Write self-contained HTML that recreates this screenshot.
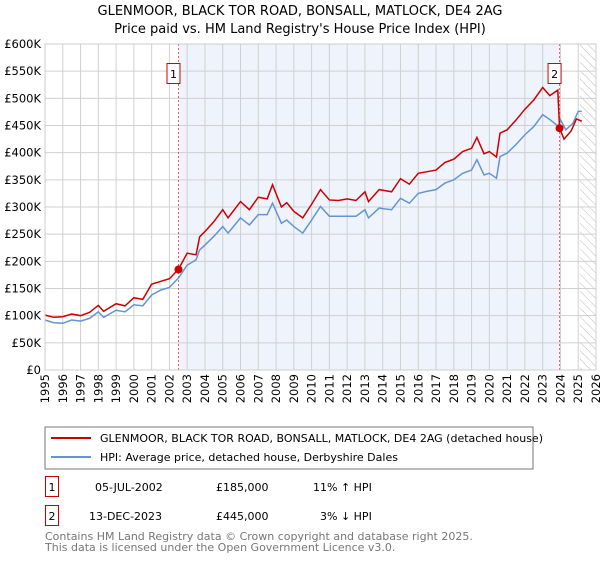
<!DOCTYPE html>
<html><head><meta charset="utf-8"><style>
body{margin:0;background:#fff;font-family:"DejaVu Sans","Liberation Sans",sans-serif;}
svg text{font-family:"DejaVu Sans","Liberation Sans",sans-serif;}
</style></head><body>
<svg id="c" width="600" height="560" xmlns="http://www.w3.org/2000/svg">
<text x="300" y="15" text-anchor="middle" font-size="13">GLENMOOR, BLACK TOR ROAD, BONSALL, MATLOCK, DE4 2AG</text>
<text x="300" y="33" text-anchor="middle" font-size="13">Price paid vs. HM Land Registry's House Price Index (HPI)</text>
<g id="plot"></g>
<rect x="45" y="427" width="488" height="42" fill="#fff" stroke="#777"/>
<line x1="51" y1="438" x2="91" y2="438" stroke="#cc0000" stroke-width="2"/>
<text x="100" y="442" font-size="11">GLENMOOR, BLACK TOR ROAD, BONSALL, MATLOCK, DE4 2AG (detached house)</text>
<line x1="51" y1="457" x2="91" y2="457" stroke="#6495d2" stroke-width="2"/>
<text x="100" y="461" font-size="11">HPI: Average price, detached house, Derbyshire Dales</text>
<rect x="45.5" y="476.5" width="13" height="20" fill="none" stroke="#cc0000"/>
<text x="52" y="491" font-size="11" text-anchor="middle">1</text>
<text x="95" y="491" font-size="11">05-JUL-2002</text>
<text x="216" y="491" font-size="11">£185,000</text>
<text x="313" y="491" font-size="11">11% ↑ HPI</text>
<rect x="45.5" y="505.5" width="13" height="20" fill="none" stroke="#cc0000"/>
<text x="52" y="520" font-size="11" text-anchor="middle">2</text>
<text x="89" y="520" font-size="11">13-DEC-2023</text>
<text x="216" y="520" font-size="11">£445,000</text>
<text x="320" y="520" font-size="11">3% ↓ HPI</text>
<text x="45" y="540" font-size="11" fill="#777">Contains HM Land Registry data © Crown copyright and database right 2025.</text>
<text x="45" y="551" font-size="11" fill="#777">This data is licensed under the Open Government Licence v3.0.</text>
</svg>
<script>
const yearTicks=[1995,1996,1997,1998,1999,2000,2001,2002,2003,2004,2005,2006,2007,2008,2009,2010,2011,2012,2013,2014,2015,2016,2017,2018,2019,2020,2021,2022,2023,2024,2025,2026];
const priceTicks=[0,50,100,150,200,250,300,350,400,450,500,550,600];
const priceLabels=["£0","£50K","£100K","£150K","£200K","£250K","£300K","£350K","£400K","£450K","£500K","£550K","£600K"];
const hpiT=[1995,1995.5,1996,1996.5,1997,1997.5,1998,1998.3,1999,1999.5,2000,2000.5,2001,2001.5,2002,2002.5,2003,2003.5,2003.7,2004,2004.5,2005,2005.3,2006,2006.5,2007,2007.5,2007.8,2008.3,2008.6,2009,2009.5,2010,2010.5,2011,2011.5,2012,2012.5,2013,2013.2,2013.8,2014.5,2015,2015.5,2016,2016.5,2017,2017.5,2018,2018.5,2019,2019.3,2019.7,2020,2020.4,2020.6,2021,2021.5,2022,2022.5,2023,2023.4,2023.9,2024,2024.3,2024.7,2025,2025.2];
const hpiV=[92,87,86,92,90,95,107,97,110,107,120,118,138,147,152,169,193,203,221,230,246,264,252,280,267,286,286,307,270,276,264,252,276,301,283,283,283,283,295,280,298,295,316,307,325,329,332,344,350,362,368,387,359,362,353,393,399,415,433,448,470,461,448,461,442,454,476,476];
const propT=[1995,1995.5,1996,1996.5,1997,1997.5,1998,1998.3,1999,1999.5,2000,2000.5,2001,2001.5,2002,2002.5,2003,2003.5,2003.7,2004,2004.5,2005,2005.3,2006,2006.5,2007,2007.5,2007.8,2008.3,2008.6,2009,2009.5,2010,2010.5,2011,2011.5,2012,2012.5,2013,2013.2,2013.8,2014.5,2015,2015.5,2016,2016.5,2017,2017.5,2018,2018.5,2019,2019.3,2019.7,2020,2020.4,2020.6,2021,2021.5,2022,2022.5,2023,2023.4,2023.85,2023.95,2024.2,2024.6,2024.9,2025.2];
const propV=[101,97,98,103,100,106,119,108,122,118,133,130,158,163,168,185,215,212,245,255,273,295,280,310,295,318,315,341,300,308,292,280,305,332,313,312,315,312,328,310,332,328,352,342,362,365,368,382,388,402,408,428,398,402,392,436,442,460,480,497,520,505,515,445,425,440,462,458];
const saleT=[2002.51,2023.95];
const saleV=[185,445];
const saleLabels=["1","2"];
const X0=45,X1=596,Y0=370,Y1=44;
const x=t=>X0+(t-1995)/(2026-1995)*(X1-X0);
const y=v=>Y0-v/600*(Y0-Y1);
const NS="http://www.w3.org/2000/svg";
const g=document.getElementById('plot');
function mk(tag,a){const e=document.createElementNS(NS,tag);for(const k in a)e.setAttribute(k,a[k]);g.appendChild(e);return e;}
const bg=mk('rect',{x:X0,y:Y1,width:X1-X0,height:Y0-Y1,fill:'#fff'});


const sh=mk('rect',{x:x(saleT[0]),y:Y1,width:x(saleT[1])-x(saleT[0]),height:Y0-Y1,fill:'#eef3fc'});


const defs=mk('defs',{});
defs.innerHTML='<pattern id="hp" width="6" height="6" patternUnits="userSpaceOnUse" patternTransform="rotate(-45)"><line x1="0" y1="0" x2="0" y2="6" stroke="#bbb" stroke-width="1"/></pattern>';
const ht=mk('rect',{x:x(2025.1),y:Y1,width:X1-x(2025.1),height:Y0-Y1,fill:'url(#hp)'});


yearTicks.forEach(t=>{const l=mk('line',{x1:x(t),x2:x(t),y1:Y1,y2:Y0,stroke:'#d0d0d0'});


const tx=mk('text',{x:0,y:0,'text-anchor':'end','font-size':'11.5',transform:'translate('+(x(t)+4)+',374) rotate(-90)'});tx.textContent=t;

});
priceTicks.forEach((v,i)=>{const l=mk('line',{x1:X0,x2:X1,y1:y(v),y2:y(v),stroke:'#d0d0d0'});


const tx=mk('text',{x:41,y:y(v)+4,'text-anchor':'end','font-size':'11.5'});tx.textContent=priceLabels[i];

});
saleT.forEach((t,i)=>{const l=mk('line',{x1:x(t),x2:x(t),y1:Y1,y2:Y0,stroke:'#e06060','stroke-dasharray':'2,2'});


const b=mk('rect',{x:x(t)-11.5,y:63.5,width:13,height:20,fill:'#fff',stroke:'#cc0000'});


const tx=mk('text',{x:x(t)-5,y:78,'text-anchor':'middle','font-size':'11'});tx.textContent=saleLabels[i];

});
const hp=mk('polyline',{points:hpiT.map((t,i)=>x(t)+','+y(hpiV[i])).join(' '),fill:'none',stroke:'#6495d2','stroke-width':'1.5'});


const pp=mk('polyline',{points:propT.map((t,i)=>x(t)+','+y(propV[i])).join(' '),fill:'none',stroke:'#cc0000','stroke-width':'1.5'});


saleT.forEach((t,i)=>{const c=mk('circle',{cx:x(t),cy:y(saleV[i]),r:4,fill:'#cc0000'});

});
const fr=mk('rect',{x:X0,y:Y1,width:X1-X0,height:Y0-Y1,fill:'none',stroke:'#ccc'});


</script>
</body></html>
